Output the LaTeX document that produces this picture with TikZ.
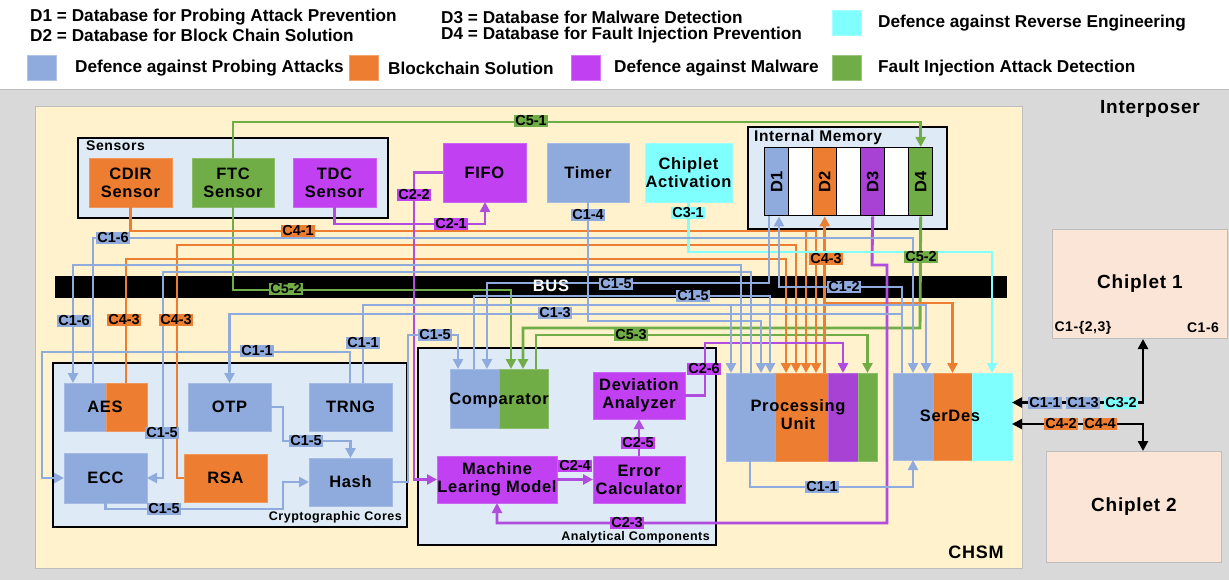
\documentclass[tikz,border=0pt]{standalone}
\usepackage{fontspec}
\setmainfont{Liberation Sans}
\newfontfamily\boxface[LetterSpace=4]{Liberation Sans}
\usetikzlibrary{arrows.meta}
\definecolor{cblue}{HTML}{8FAADC}
\definecolor{corange}{HTML}{ED7D31}
\definecolor{cpur}{HTML}{C040F2}
\definecolor{cpurd}{HTML}{A842D4}
\definecolor{cpurw}{HTML}{B04CDE}
\definecolor{cgreen}{HTML}{70AD47}
\definecolor{ccyan}{HTML}{80FFFF}
\definecolor{ccream}{HTML}{FFF2CC}
\definecolor{cpanel}{HTML}{DEEBF7}
\definecolor{cgray}{HTML}{D9D9D9}
\definecolor{cedge}{HTML}{BDBDBD}
\definecolor{cchip}{HTML}{FBE5D6}
\newcommand\bxfont{\boxface\fontsize{16.5}{18}\selectfont\bfseries}
\newcommand\tagfont{\fontsize{14.5}{15}\selectfont\bfseries}
\newcommand\lgfont{\fontsize{17.2}{18}\selectfont\bfseries}
\tikzset{
  blk/.style={fill=#1, draw=#1!80!white, line width=0.8pt, anchor=north west,
    inner sep=0pt, outer sep=0pt, align=center, font=\bxfont},
  panel/.style={fill=cpanel, draw=black, line width=1.6pt, anchor=north west,
    inner sep=0pt, outer sep=0pt},
  strip/.style={fill=#1, draw=black, line width=1.4pt, anchor=north west,
    inner sep=0pt, minimum width=24, minimum height=68},
  wire/.style={draw=#1, line width=2.9pt},
  kwire/.style={draw=black, line width=2.6pt},
  arr/.style={-{Triangle[length=10pt,width=10pt]}},
  arrboth/.style={{Triangle[length=10pt,width=10pt]}-{Triangle[length=10pt,width=10pt]}},
  tag/.style={fill=#1, inner sep=1pt, font=\tagfont},
  sq/.style={fill=#1, draw=#1!70!white, anchor=north west, inner sep=0pt,
    minimum width=29, minimum height=25},
  lg/.style={anchor=west, inner sep=0pt, font=\lgfont},
  ttl/.style={anchor=west, inner sep=0pt, font=\boxface\fontsize{#1}{#1}\selectfont\bfseries},
}

\begin{document}
\begin{tikzpicture}[x=1pt,y=-1pt]
\useasboundingbox (0,0) rectangle (1229,580);
\fill[white] (0,0) rectangle (1229,580);
\fill[cgray] (0,90) rectangle (1229,580);
\draw[cedge, line width=1pt] (0,90) -- (1229,90);
\node[fill=ccream, draw=cedge, line width=1pt, anchor=north west, inner sep=0pt,
  minimum width=987, minimum height=462] (chsm) at (35,106) {};
\node[font=\boxface\fontsize{19}{20}\selectfont\bfseries] (linter) at (1150,109) {Interposer};
\node[font=\boxface\fontsize{18}{18}\selectfont\bfseries] (lchsm) at (976,552) {CHSM};

% legend
\node[lg] (lgd1) at (30,17) {D1 = Database for Probing Attack Prevention};
\node[lg] (lgd2) at (30,35) {D2 = Database for Block Chain Solution};
\node[lg] (lgd3) at (441,17) {D3 = Database for Malware Detection};
\node[lg] (lgd4) at (441,35) {D4 = Database for Fault Injection Prevention};
\node[sq=ccyan] (sqc) at (832,10) {};
\node[lg] (lgc) at (878,23) {Defence against Reverse Engineering};
\node[sq=cblue] (sqb) at (27,55) {};
\node[lg] (lgb) at (75,68) {Defence against Probing Attacks};
\node[sq=corange] (sqo) at (349,55) {};
\node[lg] (lgo) at (388,68) {Blockchain Solution};
\node[sq=cpur] (sqp) at (571,55) {};
\node[lg] (lgp) at (614,68) {Defence against Malware};
\node[sq=cgreen] (sqg) at (832,55) {};
\node[lg] (lgg) at (878,68) {Fault Injection Attack Detection};

% panels and bus
\node[panel, minimum width=310, minimum height=80] (sens) at (78,138) {};
\node[ttl=14] (lsens) at (86,146) {Sensors};
\node[panel, minimum width=199, minimum height=102] (imem) at (748,127) {};
\node[ttl=15.5] (limem) at (754,137) {Internal Memory};
\node[panel, minimum width=354, minimum height=164] (cryp) at (53,363) {};
\node[ttl=12.5, anchor=east] (lcryp) at (402,517) {Cryptographic Cores};
\node[panel, minimum width=298, minimum height=197] (anal) at (418,348) {};
\node[ttl=12.5, anchor=east] (lanal) at (710,537) {Analytical Components};
\node[fill=black, anchor=north west, inner sep=0pt, minimum width=952, minimum height=22] (bus) at (55,276) {};

% blocks
\node[blk=corange, minimum width=83, minimum height=49] (cdir) at (89,158) {CDIR\\Sensor};
\node[blk=cgreen, minimum width=82, minimum height=49] (ftc) at (192,158) {FTC\\Sensor};
\node[blk=cpur, minimum width=83, minimum height=49] (tdc) at (293,158) {TDC\\Sensor};
\node[blk=cpur, minimum width=83, minimum height=59] (fifo) at (443,143) {FIFO};
\node[blk=cblue, minimum width=82, minimum height=59] (timer) at (547,143) {Timer};
\node[blk=ccyan, minimum width=87, minimum height=59] (chact) at (645,143) {Chiplet\\Activation};
\node[strip=cblue] (d1) at (764,147) {};
\node[strip=white] (e1) at (788,147) {};
\node[strip=corange] (d2) at (812,147) {};
\node[strip=white] (e2) at (836,147) {};
\node[strip=cpurd] (d3) at (860,147) {};
\node[strip=white] (e3) at (884,147) {};
\node[strip=cgreen] (d4) at (908,147) {};
\foreach \d in {1,...,4}
  \node[rotate=90, font=\bxfont] (td\d) at (d\d.center) {D\d};

\node[blk=cblue, minimum width=42, minimum height=48] (aesl) at (64,383) {};
\node[blk=corange, minimum width=41, minimum height=48] (aeso) at (106,383) {};
\node[font=\bxfont] (taes) at (105,407) {AES};
\node[blk=cblue, minimum width=83, minimum height=48] (otp) at (188,383) {OTP};
\node[blk=cblue, minimum width=83, minimum height=48] (trng) at (309,383) {TRNG};
\node[blk=cblue, minimum width=83, minimum height=50] (ecc) at (64,453) {ECC};
\node[blk=corange, minimum width=83, minimum height=48] (rsa) at (184,454) {RSA};
\node[blk=cblue, minimum width=83, minimum height=48] (hash) at (309,458) {Hash};

\node[blk=cblue, minimum width=49, minimum height=59] (cmpb) at (450,369) {};
\node[blk=cgreen, minimum width=49, minimum height=59] (cmpg) at (499,369) {};
\node[font=\bxfont] (tcmp) at (499,400) {Comparator};
\node[blk=cpur, minimum width=92, minimum height=47] (dev) at (593,372) {Deviation\\Analyzer};
\node[blk=cpur, minimum width=120, minimum height=47] (ml) at (437,456) {Machine\\Learing Model};
\node[blk=cpur, minimum width=92, minimum height=47] (err) at (593,456) {Error\\Calculator};

\node[blk=cblue, minimum width=49, minimum height=88] (pub) at (726,373) {};
\node[blk=corange, minimum width=53, minimum height=88] (puo) at (775,373) {};
\node[blk=cpurd, minimum width=30, minimum height=88] (pup) at (828,373) {};
\node[blk=cgreen, minimum width=19, minimum height=88] (pug) at (858,373) {};
\node[font=\bxfont, align=center] (tpu) at (798,415) {Processing\\Unit};
\node[blk=cblue, minimum width=40, minimum height=87] (sdb) at (893,373) {};
\node[blk=corange, minimum width=39, minimum height=87] (sdo) at (933,373) {};
\node[blk=ccyan, minimum width=40, minimum height=87] (sdc) at (972,373) {};
\node[font=\bxfont] (tsd) at (950,416) {SerDes};

\node[fill=cchip, draw=cedge, line width=1pt, anchor=north west, inner sep=0pt,
  minimum width=175, minimum height=109, font=\boxface\fontsize{19}{20}\selectfont\bfseries] (ch1) at (1052,229) {Chiplet 1};
\node[fill=cchip, draw=cedge, line width=1pt, anchor=north west, inner sep=0pt,
  minimum width=175, minimum height=111, font=\boxface\fontsize{19}{20}\selectfont\bfseries] (ch2) at (1046,451) {Chiplet 2};
\node[font=\boxface\fontsize{14}{14}\selectfont\bfseries] (c123) at (1083,328) {C1-\{2,3\}};
\node[font=\boxface\fontsize{14}{14}\selectfont\bfseries] (c16) at (1203,328) {C1-6};

% fault injection
\draw[wire=cgreen, arr] (ftc.north) -- (233,122) -| (d4.north);
\draw[wire=cgreen, arr] (ftc.south) -- (233,290) -| (cmpg.north -| 511,0);
\draw[wire=cgreen, arr] (d4.south) -- (920,328) -| (cmpg.north -| 523,0);
\draw[wire=cgreen, arr] (cmpg.north -| 536,0) -- (536,335) -| (pug.north);

% blockchain
\draw[wire=corange, arr] (cdir.south) -- (130.5,231) -| (puo.north -| 816,0);
\draw[wire=corange, arr] (806,231) -- (puo.north -| 806,0);
\draw[wire=corange, arr] (aeso.north -| 126,0) -- (126,259) -| (puo.north -| 786,0);
\draw[wire=corange, arr] (rsa.west) -| (177,245) -| (puo.north -| 796,0);
\draw[wire=corange, arr] (puo.north -| d2.south) -- (d2.south);
\coordinate (j42) at (824,303);
\draw[wire=corange, arr] (j42) -| (sdo.north);

% malware
\draw[wire=cpurw, arr] (tdc.south) -- (334.5,224) -| (fifo.south -| 485,0);
\draw[wire=cpurw, arr] (fifo.west) -| (414,479.5) -- (ml.west);
\draw[wire=cpurw, arr] (ml.east) -- (err.west);
\draw[wire=cpurw, arr] (err.north) -- (dev.south);
\draw[wire=cpurw, arr] (dev.east) -| (705,343) -| (pup.north);
\draw[wire=cpurw, arr] (d3.south) -- (872,265) -| (887,523) -| (ml.south);

% reverse engineering
\draw[wire=ccyan, arr] (chact.south) -- (688.5,252) -| (sdc.north);

% probing
\draw[wire=cblue, arr] (aesl.north -| 93,0) -- (93,238) -| (sdb.north);
\draw[wire=cblue, arr] (pub.north -| 741,0) -- (741,265) -| (aesl.north -| 73,0);
\draw[wire=cblue, arr] (pub.north -| 751,0) -- (751,272) -| (163,478) -- (ecc.east);
\draw[wire=cblue, arr] (trng.north -| 350,0) -- (350,352) -| (42,478) -- (ecc.west);
\draw[wire=cblue, arr] (trng.north -| 363,0) -- (363,305) -| (sdb.north -| 926,0);
\draw[wire=cblue, arr] (731,305) -- (pub.north -| 731,0);
\draw[wire=cblue, arr] (sdb.north -| 902,0) -- (902,287) -| (d1.south -| 779,0);
\draw[wire=cblue, arr] (902,314) -| (otp.north);
\draw[wire=cblue, arr] (timer.south) -- (588,321) -| (pub.north -| 761,0);
\draw[wire=cblue, arr] (d1.south -| 769,0) -- (769,283) -| (cmpb.north -| 487,0);
\draw[wire=cblue, arr] (cmpb.north -| 474,0) -- (474,296) -| (pub.north -| 770,0);
\draw[wire=cblue, arr] (hash.east) -| (408,335) -| (cmpb.north -| 458,0);
\draw[wire=cblue, arr] (otp.east) -| (283,441) -| (hash.north);
\draw[wire=cblue, arr] (ecc.south) |- (283,509) |- (hash.west);
\draw[wire=cblue, arr] (pub.south -| 750,0) -- (750,487) -| (sdb.south);

% chiplet links
\draw[kwire, arrboth] (sdc.east |- 0,402.5) -| (ch1.south -| 1143,0);
\draw[kwire, arrboth] (sdc.east |- 0,424) -| (ch2.north -| 1143,0);

\node[text=white, font=\bxfont] (lbus) at (551,286) {BUS};

% connection tags
\node[tag=cgreen] (t51) at (531,121) {C5-1};
\node[tag=cgreen] (t52a) at (286,289) {C5-2};
\node[tag=cgreen] (t52b) at (921,257) {C5-2};
\node[tag=cgreen] (t53) at (631,335) {C5-3};
\node[tag=corange] (t41) at (298,231) {C4-1};
\node[tag=corange] (t43a) at (124,320) {C4-3};
\node[tag=corange] (t43b) at (176,320) {C4-3};
\node[tag=corange] (t43c) at (826,259) {C4-3};
\node[tag=cpur] (t21) at (451,224) {C2-1};
\node[tag=cpur] (t22) at (414,195) {C2-2};
\node[tag=cpur] (t23) at (627,523) {C2-3};
\node[tag=cpur] (t24) at (575,466) {C2-4};
\node[tag=cpur] (t25) at (638,443) {C2-5};
\node[tag=cpur] (t26) at (704,369) {C2-6};
\node[tag=ccyan] (t31) at (688,213) {C3-1};
\node[tag=cblue] (t14) at (588,215) {C1-4};
\node[tag=cblue] (t16a) at (113,238) {C1-6};
\node[tag=cblue] (t16b) at (74,321) {C1-6};
\node[tag=cblue] (t11a) at (363,343) {C1-1};
\node[tag=cblue] (t11b) at (257,351) {C1-1};
\node[tag=cblue] (t11c) at (822,487) {C1-1};
\node[tag=cblue] (t15a) at (162,433) {C1-5};
\node[tag=cblue] (t15b) at (306,441) {C1-5};
\node[tag=cblue] (t15c) at (164,509) {C1-5};
\node[tag=cblue] (t15d) at (435,335) {C1-5};
\node[tag=cblue] (t15e) at (616,284) {C1-5};
\node[tag=cblue] (t15f) at (693,296) {C1-5};
\node[tag=cblue] (t13) at (555,313) {C1-3};
\node[tag=cblue] (t12) at (844,287) {C1-2};
\node[tag=cblue] (t11d) at (1045,403) {C1-1};
\node[tag=cblue] (t13b) at (1083,403) {C1-3};
\node[tag=ccyan] (t32) at (1121,403) {C3-2};
\node[tag=corange] (t42) at (1061,424) {C4-2};
\node[tag=corange] (t44) at (1100,424) {C4-4};
\end{tikzpicture}
\end{document}
